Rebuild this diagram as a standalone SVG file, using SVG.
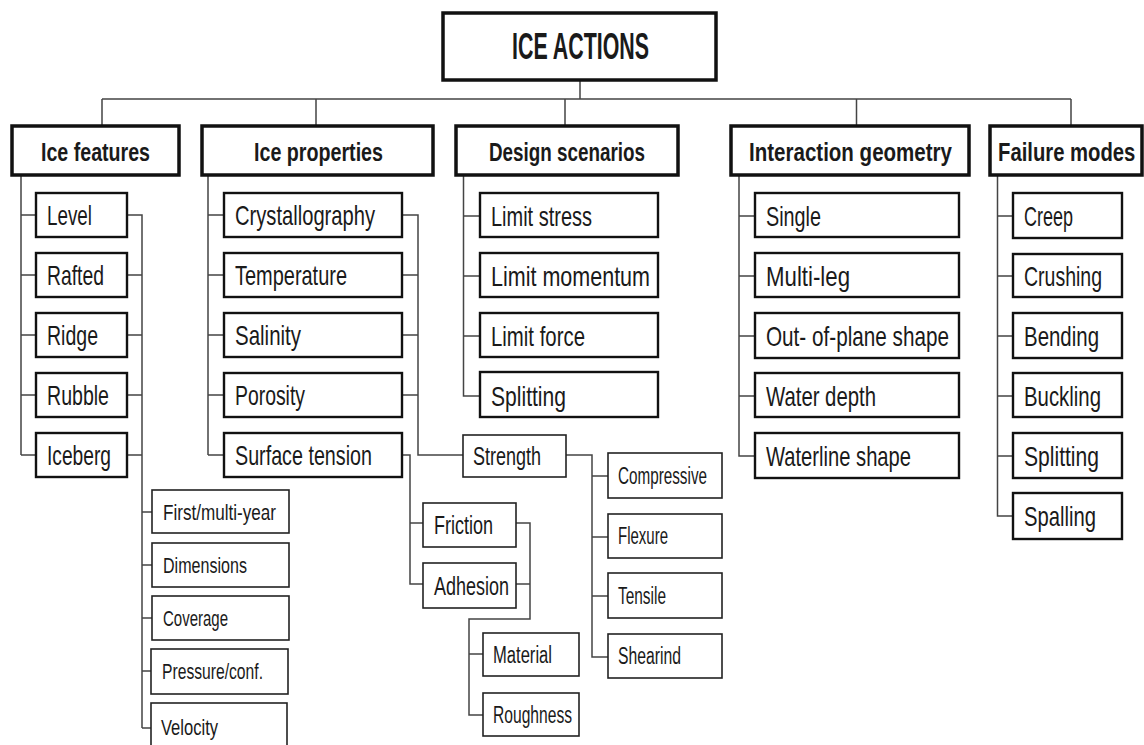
<svg xmlns="http://www.w3.org/2000/svg" width="1144" height="745" viewBox="0 0 1144 745">
<style>
.b1{fill:#fff;stroke:#111;stroke-width:3.5}
.b2{fill:#fff;stroke:#111;stroke-width:2.4}
.b3{fill:#fff;stroke:#222;stroke-width:1.6}
text{font-family:"Liberation Sans",Arial,sans-serif;fill:#1a1a1a}
.tr{font-size:36px;font-weight:bold}
.t1{font-size:26px;font-weight:bold}
.t2{font-size:28px}
.t3{font-size:26px}
.t4{font-size:23px}
.t5{font-size:22px}
#connectors path{fill:none;stroke:#444;stroke-width:1.5}
</style>
<rect width="1144" height="745" fill="#fff"/>
<g id="connectors">
<path d="M580 80V99M102 99H1071M102 99V126M316 99V126M565 99V126M856.5 99V126M1071 99V126"/>
<path d="M21 175V455M21 215H36M21 275H36M21 335H36M21 395H36M21 455H36"/>
<path d="M127 215H142V728M127 275H142M127 335H142M127 395H142M127 455H142M142 512H152M142 565H152M142 618H152M142 671H152M142 728H152"/>
<path d="M208 175V455M208 215H224M208 275H224M208 335H224M208 395H224M208 455H224"/>
<path d="M402 215H418V455H463M402 275H418M402 335H418M402 395H418"/>
<path d="M402 455H410V584H423M410 523H423"/>
<path d="M516 523H530V619H469V715H483M516 584H530M469 654H483"/>
<path d="M566 455H592V657H608M592 476H608M592 537H608M592 596H608"/>
<path d="M463.5 175V396H480M463.5 216H480M463.5 276H480M463.5 336H480"/>
<path d="M739 175V456H755M739 216H755M739 276H755M739 336H755M739 396H755"/>
<path d="M997.5 175V516H1013M997.5 216H1013M997.5 276H1013M997.5 336H1013M997.5 396H1013M997.5 456H1013"/>
</g>
<g id="root"><rect class="b1" x="443" y="13" width="273" height="67"/><text class="tr" x="512" y="59" textLength="137" lengthAdjust="spacingAndGlyphs">ICE ACTIONS</text></g>
<g id="ice-features"><rect class="b1" x="12" y="126" width="167" height="49"/><text class="t1" x="41" y="161" textLength="109" lengthAdjust="spacingAndGlyphs">Ice features</text></g>
<g id="ice-properties"><rect class="b1" x="202" y="126" width="231" height="49"/><text class="t1" x="254" y="161" textLength="129" lengthAdjust="spacingAndGlyphs">Ice properties</text></g>
<g id="design-scenarios"><rect class="b1" x="456" y="126" width="222" height="49"/><text class="t1" x="489" y="161" textLength="156" lengthAdjust="spacingAndGlyphs">Design scenarios</text></g>
<g id="interaction-geometry"><rect class="b1" x="731" y="126" width="238" height="49"/><text class="t1" x="749" y="161" textLength="203" lengthAdjust="spacingAndGlyphs">Interaction geometry</text></g>
<g id="failure-modes"><rect class="b1" x="990" y="126" width="152" height="49"/><text class="t1" transform="translate(998 161) scale(0.78 1)">Failure modes</text></g>

<g id="level"><rect class="b2" x="36" y="193" width="91" height="44"/><text class="t2" x="47" y="225" textLength="45" lengthAdjust="spacingAndGlyphs">Level</text></g>
<g id="rafted"><rect class="b2" x="36" y="253" width="91" height="44"/><text class="t2" x="47" y="285" textLength="57" lengthAdjust="spacingAndGlyphs">Rafted</text></g>
<g id="ridge"><rect class="b2" x="36" y="313" width="91" height="44"/><text class="t2" x="47" y="345" textLength="51" lengthAdjust="spacingAndGlyphs">Ridge</text></g>
<g id="rubble"><rect class="b2" x="36" y="373" width="91" height="44"/><text class="t2" x="47" y="405" textLength="62" lengthAdjust="spacingAndGlyphs">Rubble</text></g>
<g id="iceberg"><rect class="b2" x="36" y="433" width="91" height="44"/><text class="t2" x="47" y="465" textLength="64" lengthAdjust="spacingAndGlyphs">Iceberg</text></g>

<g id="first-multi-year"><rect class="b3" x="152" y="490" width="137" height="43"/><text class="t5" x="163" y="520" textLength="113" lengthAdjust="spacingAndGlyphs">First/multi-year</text></g>
<g id="dimensions"><rect class="b3" x="152" y="543" width="137" height="44"/><text class="t5" x="163" y="573" textLength="84" lengthAdjust="spacingAndGlyphs">Dimensions</text></g>
<g id="coverage"><rect class="b3" x="152" y="596" width="137" height="44"/><text class="t5" x="163" y="626" textLength="65" lengthAdjust="spacingAndGlyphs">Coverage</text></g>
<g id="pressure-conf"><rect class="b3" x="151" y="649" width="137" height="45"/><text class="t5" x="162" y="679" textLength="101" lengthAdjust="spacingAndGlyphs">Pressure/conf.</text></g>
<g id="velocity"><rect class="b3" x="151" y="703" width="136" height="50"/><text class="t5" x="161" y="735" textLength="57" lengthAdjust="spacingAndGlyphs">Velocity</text></g>

<g id="crystallography"><rect class="b2" x="224" y="193" width="178" height="44"/><text class="t2" x="235" y="225" textLength="140" lengthAdjust="spacingAndGlyphs">Crystallography</text></g>
<g id="temperature"><rect class="b2" x="224" y="253" width="178" height="44"/><text class="t2" x="235" y="285" textLength="112" lengthAdjust="spacingAndGlyphs">Temperature</text></g>
<g id="salinity"><rect class="b2" x="224" y="313" width="178" height="44"/><text class="t2" x="235" y="345" textLength="66" lengthAdjust="spacingAndGlyphs">Salinity</text></g>
<g id="porosity"><rect class="b2" x="224" y="373" width="178" height="44"/><text class="t2" x="235" y="405" textLength="70" lengthAdjust="spacingAndGlyphs">Porosity</text></g>
<g id="surface-tension"><rect class="b2" x="224" y="433" width="178" height="44"/><text class="t2" x="235" y="465" textLength="137" lengthAdjust="spacingAndGlyphs">Surface tension</text></g>

<g id="strength"><rect class="b3" x="463" y="435" width="103" height="42"/><text class="t3" x="473" y="465" textLength="68" lengthAdjust="spacingAndGlyphs">Strength</text></g>
<g id="friction"><rect class="b3" x="423" y="503" width="93" height="44"/><text class="t3" x="434" y="534" textLength="59" lengthAdjust="spacingAndGlyphs">Friction</text></g>
<g id="adhesion"><rect class="b3" x="423" y="563" width="93" height="45"/><text class="t3" x="434" y="595" textLength="75" lengthAdjust="spacingAndGlyphs">Adhesion</text></g>
<g id="material"><rect class="b3" x="483" y="633" width="96" height="43"/><text class="t4" x="493" y="663" textLength="59" lengthAdjust="spacingAndGlyphs">Material</text></g>
<g id="roughness"><rect class="b3" x="483" y="693" width="96" height="43"/><text class="t4" x="493" y="723" textLength="79" lengthAdjust="spacingAndGlyphs">Roughness</text></g>
<g id="compressive"><rect class="b3" x="608" y="453" width="114" height="45"/><text class="t4" x="618" y="484" textLength="89" lengthAdjust="spacingAndGlyphs">Compressive</text></g>
<g id="flexure"><rect class="b3" x="608" y="514" width="114" height="44"/><text class="t4" x="618" y="544" textLength="50" lengthAdjust="spacingAndGlyphs">Flexure</text></g>
<g id="tensile"><rect class="b3" x="608" y="573" width="114" height="45"/><text class="t4" x="618" y="604" textLength="48" lengthAdjust="spacingAndGlyphs">Tensile</text></g>
<g id="shearind"><rect class="b3" x="608" y="634" width="114" height="44"/><text class="t4" x="618" y="664" textLength="63" lengthAdjust="spacingAndGlyphs">Shearind</text></g>

<g id="limit-stress"><rect class="b2" x="480" y="193" width="178" height="44"/><text class="t2" x="491" y="226" textLength="101" lengthAdjust="spacingAndGlyphs">Limit stress</text></g>
<g id="limit-momentum"><rect class="b2" x="480" y="253" width="178" height="44"/><text class="t2" x="491" y="286" textLength="159" lengthAdjust="spacingAndGlyphs">Limit momentum</text></g>
<g id="limit-force"><rect class="b2" x="480" y="313" width="178" height="44"/><text class="t2" x="491" y="346" textLength="94" lengthAdjust="spacingAndGlyphs">Limit force</text></g>
<g id="splitting-ds"><rect class="b2" x="480" y="372" width="178" height="45"/><text class="t2" x="491" y="406" textLength="75" lengthAdjust="spacingAndGlyphs">Splitting</text></g>

<g id="single"><rect class="b2" x="755" y="193" width="204" height="44"/><text class="t2" x="766" y="226" textLength="55" lengthAdjust="spacingAndGlyphs">Single</text></g>
<g id="multi-leg"><rect class="b2" x="755" y="253" width="204" height="44"/><text class="t2" x="766" y="286" textLength="84" lengthAdjust="spacingAndGlyphs">Multi-leg</text></g>
<g id="out-of-plane"><rect class="b2" x="755" y="313" width="204" height="45"/><text class="t2" x="766" y="346" textLength="183" lengthAdjust="spacingAndGlyphs">Out- of-plane shape</text></g>
<g id="water-depth"><rect class="b2" x="755" y="373" width="204" height="44"/><text class="t2" x="766" y="406" textLength="110" lengthAdjust="spacingAndGlyphs">Water depth</text></g>
<g id="waterline-shape"><rect class="b2" x="755" y="433" width="204" height="45"/><text class="t2" x="766" y="466" textLength="145" lengthAdjust="spacingAndGlyphs">Waterline shape</text></g>

<g id="creep"><rect class="b2" x="1013" y="193" width="109" height="45"/><text class="t2" x="1024" y="226" textLength="49" lengthAdjust="spacingAndGlyphs">Creep</text></g>
<g id="crushing"><rect class="b2" x="1013" y="254" width="109" height="43"/><text class="t2" x="1024" y="286" textLength="78" lengthAdjust="spacingAndGlyphs">Crushing</text></g>
<g id="bending"><rect class="b2" x="1013" y="313" width="109" height="45"/><text class="t2" x="1024" y="346" textLength="75" lengthAdjust="spacingAndGlyphs">Bending</text></g>
<g id="buckling"><rect class="b2" x="1013" y="373" width="109" height="44"/><text class="t2" x="1024" y="406" textLength="77" lengthAdjust="spacingAndGlyphs">Buckling</text></g>
<g id="splitting-fm"><rect class="b2" x="1013" y="433" width="109" height="45"/><text class="t2" x="1024" y="466" textLength="75" lengthAdjust="spacingAndGlyphs">Splitting</text></g>
<g id="spalling"><rect class="b2" x="1013" y="493" width="109" height="46"/><text class="t2" x="1024" y="526" textLength="72" lengthAdjust="spacingAndGlyphs">Spalling</text></g>
</svg>
